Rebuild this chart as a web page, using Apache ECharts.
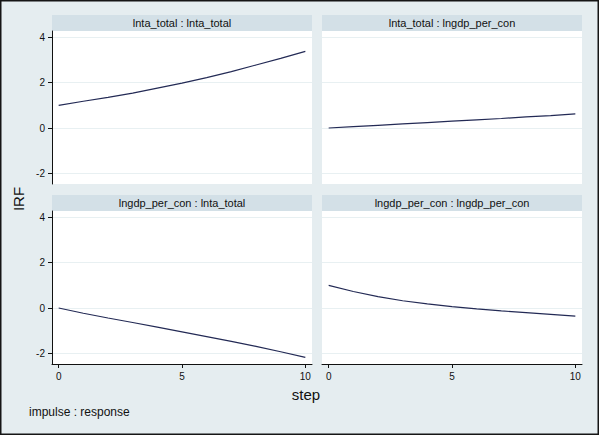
<!DOCTYPE html>
<html>
<head>
<meta charset="utf-8">
<script src="https://cdn.jsdelivr.net/npm/echarts@6/dist/echarts.min.js"></script>
<style>
  html, body { margin: 0; padding: 0; background: #e5edf0; }
  #chart { width: 599px; height: 435px; }
</style>
</head>
<body>
<div id="chart"></div>
<script>
// 数据：步长与四个脉冲响应
const steps = [0, 1, 2, 3, 4, 5, 6, 7, 8, 9, 10]
const panelTitles = [
  'lnta_total : lnta_total',
  'lnta_total : lngdp_per_con',
  'lngdp_per_con : lnta_total',
  'lngdp_per_con : lngdp_per_con'
]
const irfTaTa = [1.00, 1.18, 1.35, 1.54, 1.76, 1.98, 2.22, 2.49, 2.78, 3.07, 3.38]
const irfTaGdp = [0.00, 0.06, 0.12, 0.18, 0.24, 0.30, 0.36, 0.42, 0.49, 0.55, 0.62]
const irfGdpTa = [0.00, -0.23, -0.44, -0.64, -0.84, -1.05, -1.26, -1.47, -1.69, -1.93, -2.18]
const irfGdpGdp = [1.00, 0.73, 0.50, 0.32, 0.18, 0.06, -0.04, -0.13, -0.20, -0.28, -0.36]
const yTicks = [-2, 0, 2, 4]
const xTicks = [0, 5, 10]

const seriesData = [irfTaTa, irfTaGdp, irfGdpTa, irfGdpGdp]

// 面板布局（像素）
const panels = [
  { left: 52, top: 31, showX: false, showY: true },
  { left: 322, top: 31, showX: false, showY: false },
  { left: 52, top: 211, showX: true, showY: true },
  { left: 322, top: 211, showX: true, showY: false }
]
const PW = 260
const PH = 153
const FONT = '"Liberation Sans", Arial, sans-serif'
const LINE = '#232a55'
const GRID = '#e8f0f2'

const grids = panels.map(p => ({
  left: p.left, top: p.top, width: PW, height: PH,
  show: true, backgroundColor: '#ffffff', borderWidth: 0
}))

const xAxes = panels.map((p, i) => ({
  type: 'value', gridIndex: i, min: -0.27, max: 10.27,
  axisLine: { show: p.showX, onZero: false, lineStyle: { color: '#111', width: 1 } },
  axisTick: { show: p.showX, customValues: xTicks, length: 4, lineStyle: { color: '#111' } },
  axisLabel: { show: p.showX, customValues: xTicks, margin: 7, color: '#111', fontSize: 10, fontFamily: FONT },
  splitLine: { show: false }
}))

const yAxes = panels.map((p, i) => ({
  type: 'value', gridIndex: i, min: -2.47, max: 4.28,
  axisLine: { show: p.showY, onZero: false, lineStyle: { color: '#111', width: 1 } },
  axisTick: { show: p.showY, customValues: yTicks, length: 4, lineStyle: { color: '#111' } },
  axisLabel: { show: p.showY, customValues: yTicks, margin: 7, color: '#111', fontSize: 10, fontFamily: FONT },
  splitLine: { show: true, lineStyle: { color: GRID, width: 1 } }
}))

const series = seriesData.map((vals, i) => ({
  type: 'line', xAxisIndex: i, yAxisIndex: i,
  data: steps.map((s, k) => [s, vals[k]]),
  showSymbol: false, symbol: 'none', silent: true, animation: false,
  lineStyle: { color: LINE, width: 1.2 }
}))

// 条带标题与外框
const graphics = []
panels.forEach((p, i) => {
  graphics.push({
    type: 'rect', shape: { x: p.left, y: p.top - 16, width: PW, height: 16 },
    style: { fill: '#d3e0e7' }, silent: true
  })
  graphics.push({
    type: 'text', x: p.left + PW / 2, y: p.top - 8,
    style: { text: panelTitles[i], fill: '#111', font: '11px ' + FONT, textAlign: 'center', textVerticalAlign: 'middle' },
    silent: true
  })
})
graphics.push({
  type: 'text', x: 18, y: 199, rotation: Math.PI / 2,
  style: { text: 'IRF', fill: '#111', font: '15px ' + FONT, textAlign: 'center', textVerticalAlign: 'middle' }
})
graphics.push({
  type: 'text', x: 306, y: 394,
  style: { text: 'step', fill: '#111', font: '15px ' + FONT, textAlign: 'center', textVerticalAlign: 'middle' }
})
graphics.push({
  type: 'text', x: 29, y: 412,
  style: { text: 'impulse : response', fill: '#111', font: '12px ' + FONT, textAlign: 'left', textVerticalAlign: 'middle' }
})
graphics.push({
  type: 'rect', shape: { x: 0.75, y: 0.75, width: 597.5, height: 433.5 },
  style: { fill: 'none', stroke: '#151515', lineWidth: 1.5 }, silent: true
})

const chart = echarts.init(document.getElementById('chart'), null, { renderer: 'svg' })
chart.setOption({
  backgroundColor: '#e5edf0',
  animation: false,
  grid: grids,
  xAxis: xAxes,
  yAxis: yAxes,
  series: series,
  graphic: graphics
})
window.addEventListener('resize', () => chart.resize())
</script>
</body>
</html>
